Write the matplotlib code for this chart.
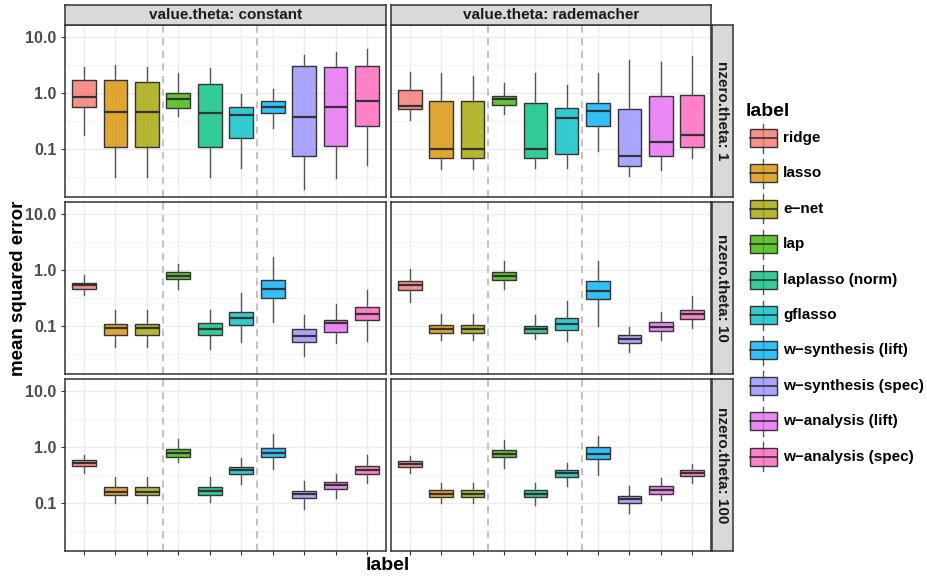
import numpy as np
import matplotlib
matplotlib.use('Agg')
import matplotlib.pyplot as plt
from matplotlib.patches import Rectangle
from matplotlib.ticker import FixedLocator, NullFormatter

plt.rcParams['font.family'] = ['Liberation Sans', 'DejaVu Sans']
plt.rcParams['font.weight'] = 'bold'

labels = ['ridge', 'lasso', 'e\u2212net', 'lap', 'laplasso (norm)', 'gflasso',
          'w\u2212synthesis (lift)', 'w\u2212synthesis (spec)',
          'w\u2212analysis (lift)', 'w\u2212analysis (spec)']
colors = ['#F8766D', '#D89000', '#A3A500', '#39B600', '#00BF7D',
          '#00BFC4', '#00B0F6', '#9590FF', '#E76BF3', '#FF62BC']
col_names = ['value.theta: constant', 'value.theta: rademacher']
row_names = ['nzero.theta: 1', 'nzero.theta: 10', 'nzero.theta: 100']

# each panel: rows are lower whisker, q1, median, q3, upper whisker
constant_1 = [
    [0.173, 0.0316, 0.0316, 0.378, 0.0316, 0.0458, 0.24, 0.019, 0.030, 0.052],
    [0.56, 0.109, 0.109, 0.54, 0.107, 0.153, 0.428, 0.073, 0.110, 0.257],
    [0.85, 0.46, 0.458, 0.78, 0.433, 0.40, 0.555, 0.367, 0.555, 0.72],
    [1.71, 1.71, 1.59, 0.99, 1.43, 0.555, 0.72, 2.99, 2.87, 3.0],
    [2.91, 3.08, 2.9, 2.21, 2.8, 0.95, 1.18, 4.64, 5.32, 6.02],
]
rademacher_1 = [
    [0.325, 0.044, 0.044, 0.42, 0.0458, 0.0458, 0.0908, 0.0325, 0.0416, 0.068],
    [0.504, 0.069, 0.069, 0.61, 0.069, 0.080, 0.254, 0.0497, 0.074, 0.1056],
    [0.586, 0.0986, 0.0986, 0.77, 0.0986, 0.353, 0.464, 0.074, 0.135, 0.18],
    [1.10, 0.72, 0.72, 0.87, 0.654, 0.532, 0.645, 0.518, 0.86, 0.93],
    [2.37, 2.27, 1.98, 1.47, 2.27, 1.35, 2.21, 3.88, 3.58, 4.52],
]
constant_10 = [
    [0.356, 0.0414, 0.0414, 0.456, 0.0386, 0.0516, 0.116, 0.0285, 0.050, 0.0545],
    [0.456, 0.069, 0.069, 0.68, 0.069, 0.103, 0.314, 0.0509, 0.079, 0.125],
    [0.53, 0.091, 0.091, 0.79, 0.088, 0.1355, 0.45, 0.067, 0.1117, 0.162],
    [0.59, 0.109, 0.109, 0.895, 0.110, 0.176, 0.652, 0.086, 0.126, 0.216],
    [0.82, 0.194, 0.194, 1.26, 0.194, 0.381, 1.69, 0.158, 0.242, 0.443],
]
rademacher_10 = [
    [0.27, 0.055, 0.055, 0.45, 0.0576, 0.0537, 0.101, 0.0336, 0.0568, 0.092],
    [0.437, 0.074, 0.074, 0.652, 0.074, 0.085, 0.297, 0.050, 0.081, 0.134],
    [0.53, 0.086, 0.086, 0.79, 0.086, 0.109, 0.425, 0.0592, 0.097, 0.164],
    [0.634, 0.103, 0.103, 0.93, 0.101, 0.139, 0.626, 0.069, 0.115, 0.194],
    [1.03, 0.16, 0.16, 1.41, 0.155, 0.281, 1.43, 0.097, 0.176, 0.346],
]
constant_100 = [
    [0.346, 0.0986, 0.0986, 0.53, 0.103, 0.216, 0.397, 0.078, 0.121, 0.225],
    [0.462, 0.139, 0.139, 0.67, 0.137, 0.327, 0.652, 0.12, 0.174, 0.332],
    [0.516, 0.158, 0.158, 0.77, 0.16, 0.392, 0.78, 0.141, 0.208, 0.392],
    [0.576, 0.191, 0.191, 0.895, 0.188, 0.443, 0.946, 0.162, 0.238, 0.456],
    [0.70, 0.289, 0.289, 1.39, 0.289, 0.634, 1.67, 0.242, 0.332, 0.70],
]
rademacher_100 = [
    [0.336, 0.1, 0.1, 0.42, 0.093, 0.199, 0.318, 0.065, 0.113, 0.229],
    [0.443, 0.128, 0.128, 0.652, 0.125, 0.289, 0.617, 0.0986, 0.145, 0.305],
    [0.502, 0.145, 0.145, 0.759, 0.145, 0.341, 0.759, 0.115, 0.169, 0.341],
    [0.568, 0.167, 0.167, 0.883, 0.169, 0.392, 0.973, 0.132, 0.196, 0.381],
    [0.68, 0.229, 0.229, 1.30, 0.229, 0.523, 1.58, 0.196, 0.281, 0.502],
]
panels = [[constant_1, rademacher_1],
          [constant_10, rademacher_10],
          [constant_100, rademacher_100]]

W, H = 928, 578
fig = plt.figure(figsize=(W / 100, H / 100), dpi=100)


def box(x0, y0, x1, y1):
    # pixel box -> figure fraction
    return [x0 / W, 1 - y1 / H, (x1 - x0) / W, (y1 - y0) / H]


col_px = [(65, 386), (391, 711)]
row_px = [(25, 197), (202, 374), (379, 551)]
dark = '#333333'
alpha = 0.8

for r, (y0, y1) in enumerate(row_px):
    for c, (x0, x1) in enumerate(col_px):
        ax = fig.add_axes(box(x0, y0, x1, y1))
        d = panels[r][c]
        stats = []
        for i in range(10):
            stats.append({'whislo': d[0][i], 'q1': d[1][i], 'med': d[2][i],
                          'q3': d[3][i], 'whishi': d[4][i]})
        pos = np.arange(1, 11)
        res = ax.bxp(stats, positions=pos, widths=0.75, patch_artist=True,
                     showfliers=False, showcaps=False,
                     boxprops=dict(edgecolor=dark, linewidth=1.0),
                     medianprops=dict(color=dark, linewidth=1.6),
                     whiskerprops=dict(color='#555555', linewidth=1.0),
                     zorder=3)
        for patch, col in zip(res['boxes'], colors):
            patch.set_facecolor(matplotlib.colors.to_rgba(col, alpha))
        for xv in (3.5, 6.5):
            ax.axvline(xv, color='#BDBDBD', lw=1.3, ls=(0, (4, 3)), zorder=2)

        ax.set_yscale('log')
        ax.set_ylim(10 ** -1.86, 10 ** 1.21)
        ax.set_xlim(0.4, 10.6)
        ax.yaxis.set_major_locator(FixedLocator([0.1, 1.0, 10.0]))
        ax.yaxis.set_minor_locator(FixedLocator([10 ** -1.5, 10 ** -0.5, 10 ** 0.5]))
        ax.yaxis.set_minor_formatter(NullFormatter())
        ax.set_xticks(pos)
        ax.set_xticklabels([])
        ax.grid(True, which='major', color='#EBEBEB', lw=1.0, zorder=0)
        ax.grid(True, which='minor', axis='y', color='#F2F2F2', lw=0.6, zorder=0)
        ax.set_axisbelow(True)
        ax.tick_params(which='minor', length=0)
        ax.tick_params(which='major', length=3, color=dark, width=0.8)
        if c == 0:
            ax.set_yticklabels(['0.1', '1.0', '10.0'])
            ax.tick_params(axis='y', labelsize=11.5, labelcolor='#4D4D4D', pad=3)
        else:
            ax.tick_params(axis='y', length=0, labelleft=False)
        if r < 2:
            ax.tick_params(axis='x', length=0)
        for s in ax.spines.values():
            s.set_color(dark)
            s.set_linewidth(1.1)

# column strips
for c, (x0, x1) in enumerate(col_px):
    sax = fig.add_axes(box(x0, 5, x1, 25))
    sax.set_facecolor('#D9D9D9')
    sax.set_xticks([])
    sax.set_yticks([])
    for s in sax.spines.values():
        s.set_color(dark)
        s.set_linewidth(1.1)
    sax.text(0.5, 0.5, col_names[c], ha='center', va='center',
             fontsize=11, fontweight='bold', color='#1A1A1A', transform=sax.transAxes)

# row strips
for r, (y0, y1) in enumerate(row_px):
    sax = fig.add_axes(box(712, y0, 733, y1))
    sax.set_facecolor('#D9D9D9')
    sax.set_xticks([])
    sax.set_yticks([])
    for s in sax.spines.values():
        s.set_color(dark)
        s.set_linewidth(1.1)
    sax.text(0.5, 0.5, row_names[r], ha='center', va='center', rotation=-90,
             fontsize=11, fontweight='bold', color='#1A1A1A', transform=sax.transAxes)

fig.text(388 / W, 1 - 565 / H, 'label', ha='center', va='center',
         fontsize=14, fontweight='bold')
fig.text(19 / W, 1 - 288 / H, 'mean squared error', ha='center', va='center',
         rotation=90, fontsize=13.5, fontweight='bold')

# legend drawn in pixel coordinates
lax = fig.add_axes([0, 0, 1, 1], zorder=5)
lax.set_xlim(0, W)
lax.set_ylim(H, 0)
lax.axis('off')
lax.text(746, 111, 'label', ha='left', va='center', fontsize=14, fontweight='bold')
for i, (lab, col) in enumerate(zip(labels, colors)):
    yc = 138 + i * 35.4
    lax.plot([763.5, 763.5], [yc - 14.5, yc + 14.5], color='#555555', lw=1.0)
    lax.add_patch(Rectangle((750, yc - 9), 27, 18,
                            facecolor=matplotlib.colors.to_rgba(col, alpha),
                            edgecolor=dark, lw=1.0, zorder=3))
    lax.plot([750, 777], [yc, yc], color=dark, lw=1.2, zorder=4)
    lax.text(783, yc, lab, ha='left', va='center', fontsize=11, fontweight='bold')

fig.savefig('out.png', dpi=100)
